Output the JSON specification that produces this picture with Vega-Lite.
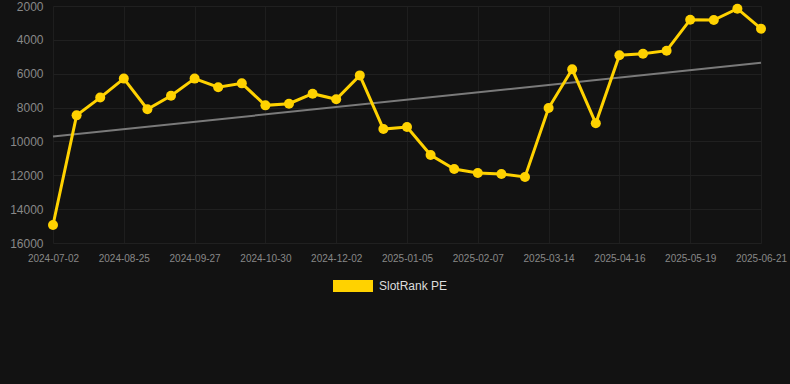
{
  "$schema": "https://vega.github.io/schema/vega-lite/v6.json",
  "autosize": {"type": "none"},
  "padding": {"left": 53, "top": 6, "right": 0, "bottom": 141},
  "width": 737,
  "height": 237,
  "background": "#121212",
  "config": {
    "view": {"stroke": null},
    "font": "Liberation Sans"
  },
  "datasets": {
    "main": [
      {"i": 0, "date": "2024-07-02", "rank": 14940, "s": "SlotRank PE"},
      {"i": 1, "date": "2024-07-20", "rank": 8460, "s": "SlotRank PE"},
      {"i": 2, "date": "2024-08-07", "rank": 7410, "s": "SlotRank PE"},
      {"i": 3, "date": "2024-08-25", "rank": 6290, "s": "SlotRank PE"},
      {"i": 4, "date": "2024-09-05", "rank": 8100, "s": "SlotRank PE"},
      {"i": 5, "date": "2024-09-16", "rank": 7300, "s": "SlotRank PE"},
      {"i": 6, "date": "2024-09-27", "rank": 6290, "s": "SlotRank PE"},
      {"i": 7, "date": "2024-10-08", "rank": 6800, "s": "SlotRank PE"},
      {"i": 8, "date": "2024-10-19", "rank": 6570, "s": "SlotRank PE"},
      {"i": 9, "date": "2024-10-30", "rank": 7870, "s": "SlotRank PE"},
      {"i": 10, "date": "2024-11-10", "rank": 7770, "s": "SlotRank PE"},
      {"i": 11, "date": "2024-11-21", "rank": 7180, "s": "SlotRank PE"},
      {"i": 12, "date": "2024-12-02", "rank": 7510, "s": "SlotRank PE"},
      {"i": 13, "date": "2024-12-13", "rank": 6100, "s": "SlotRank PE"},
      {"i": 14, "date": "2024-12-24", "rank": 9270, "s": "SlotRank PE"},
      {"i": 15, "date": "2025-01-05", "rank": 9150, "s": "SlotRank PE"},
      {"i": 16, "date": "2025-01-16", "rank": 10800, "s": "SlotRank PE"},
      {"i": 17, "date": "2025-01-27", "rank": 11630, "s": "SlotRank PE"},
      {"i": 18, "date": "2025-02-07", "rank": 11860, "s": "SlotRank PE"},
      {"i": 19, "date": "2025-02-19", "rank": 11920, "s": "SlotRank PE"},
      {"i": 20, "date": "2025-03-02", "rank": 12100, "s": "SlotRank PE"},
      {"i": 21, "date": "2025-03-14", "rank": 8030, "s": "SlotRank PE"},
      {"i": 22, "date": "2025-03-25", "rank": 5740, "s": "SlotRank PE"},
      {"i": 23, "date": "2025-04-05", "rank": 8930, "s": "SlotRank PE"},
      {"i": 24, "date": "2025-04-16", "rank": 4910, "s": "SlotRank PE"},
      {"i": 25, "date": "2025-04-27", "rank": 4820, "s": "SlotRank PE"},
      {"i": 26, "date": "2025-05-08", "rank": 4640, "s": "SlotRank PE"},
      {"i": 27, "date": "2025-05-19", "rank": 2810, "s": "SlotRank PE"},
      {"i": 28, "date": "2025-05-30", "rank": 2830, "s": "SlotRank PE"},
      {"i": 29, "date": "2025-06-10", "rank": 2160, "s": "SlotRank PE"},
      {"i": 30, "date": "2025-06-21", "rank": 3340, "s": "SlotRank PE"}
    ]
  },
  "data": {"name": "main"},
  "encoding": {
    "x": {
      "field": "date",
      "type": "ordinal",
      "scale": {"type": "point", "padding": 0, "range": [0, 708]},
      "axis": {
        "title": null,
        "values": ["2024-07-02", "2024-08-25", "2024-09-27", "2024-10-30", "2024-12-02", "2025-01-05", "2025-02-07", "2025-03-14", "2025-04-16", "2025-05-19", "2025-06-21"],
        "labelAngle": 0,
        "labelFontSize": 10,
        "labelColor": "#888888",
        "labelPadding": 10,
        "ticks": false,
        "domain": false,
        "grid": true,
        "gridColor": "#1e1e1e",
        "gridWidth": 1
      }
    },
    "y": {
      "field": "rank",
      "type": "quantitative",
      "scale": {"domain": [2000, 16000], "reverse": true, "nice": false, "zero": false},
      "axis": {
        "title": null,
        "values": [2000, 4000, 6000, 8000, 10000, 12000, 14000, 16000],
        "format": "d",
        "labelFontSize": 12,
        "labelColor": "#888888",
        "labelPadding": 10,
        "ticks": false,
        "domain": false,
        "grid": true,
        "gridColor": "#202020",
        "gridWidth": 1
      }
    }
  },
  "layer": [
    {
      "transform": [
        {"regression": "rank", "on": "i"},
        {"lookup": "i", "from": {"data": {"name": "main"}, "key": "i", "fields": ["date"]}}
      ],
      "mark": {"type": "line", "color": "#7a7a7a", "strokeWidth": 2}
    },
    {
      "mark": {"type": "line", "color": "#FFD200", "strokeWidth": 3}
    },
    {
      "mark": {"type": "point", "filled": true, "opacity": 1, "size": 100},
      "encoding": {
        "color": {
          "field": "s",
          "type": "nominal",
          "scale": {"range": ["#FFD200"]},
          "legend": {
            "title": null,
            "orient": "none",
            "legendX": 280,
            "legendY": 260,
            "padding": 0,
            "symbolType": "M-1,-0.3H1V0.3H-1Z",
            "symbolSize": 1600,
            "symbolStrokeWidth": 0,
            "symbolOpacity": 1,
            "labelFontSize": 12,
            "labelColor": "#dddddd",
            "labelOffset": 6
          }
        }
      }
    }
  ]
}
